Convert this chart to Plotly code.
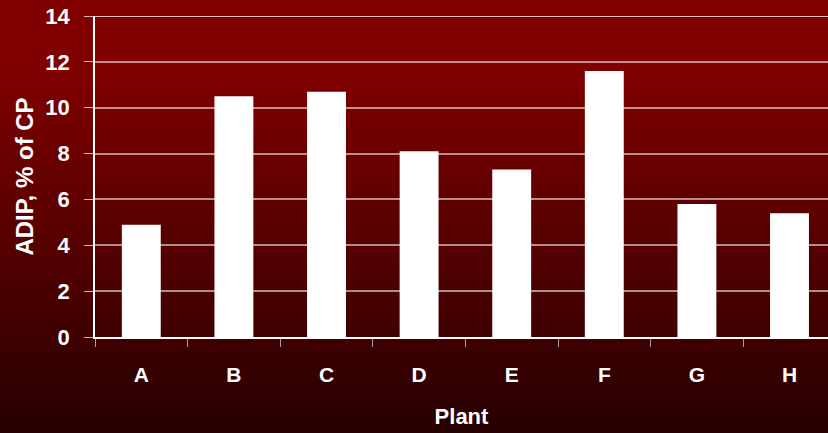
import plotly.graph_objects as go

plants = ["A", "B", "C", "D", "E", "F", "G", "H"]
adip = [4.9, 10.5, 10.7, 8.1, 7.3, 11.6, 5.8, 5.4]
y_ticks = [0, 2, 4, 6, 8, 10, 12, 14]

W, H = 828, 433
ML, MR, MT, MB = 95, 0, 16, 96
PH = H - MT - MB

def py_to_paper(py):
    return (H - MB - py) / PH

def lerp(a, b, t):
    return tuple(int(round(a[i] + (b[i] - a[i]) * t)) for i in range(3))

top_c = (128, 0, 0)
bot_c = (38, 0, 0)
shapes = []
n = 90
start = 70
for i in range(n):
    y0 = start + (H - start) * i / n
    y1 = start + (H - start) * (i + 1) / n
    c = lerp(top_c, bot_c, (i + 0.5) / n)
    shapes.append(dict(type="rect", xref="paper", yref="paper", layer="below",
                       x0=-0.2, x1=1.1, y0=py_to_paper(y1 + 0.5), y1=py_to_paper(y0),
                       fillcolor="rgb(%d,%d,%d)" % c, line=dict(width=0)))
shapes.append(dict(type="rect", xref="paper", yref="paper", layer="below",
                   x0=-0.2, x1=1.1, y0=py_to_paper(start), y1=py_to_paper(-5),
                   fillcolor="rgb(%d,%d,%d)" % top_c, line=dict(width=0)))
# top border line at 14
shapes.append(dict(type="line", xref="paper", yref="y", x0=0, x1=1, y0=14, y1=14,
                   line=dict(color="white", width=1.5), layer="above"))

fig = go.Figure(go.Bar(x=plants, y=adip, marker=dict(color="white", line=dict(width=0)),
                       width=0.42))

font = "Liberation Sans, Arial, sans-serif"
fig.update_layout(
    width=W, height=H,
    margin=dict(l=ML, r=MR, t=MT, b=MB, pad=0),
    paper_bgcolor="#800000", plot_bgcolor="rgba(0,0,0,0)",
    shapes=shapes, showlegend=False,
    font=dict(family=font, color="white"),
)
fig.update_xaxes(
    range=[-0.5, -0.5 + (W - ML) / 92.6], tickson="boundaries",
    ticks="outside", ticklen=8, tickcolor="rgba(255,255,255,0.6)", tickwidth=1,
    showline=True, linecolor="white", linewidth=1.5, showgrid=False,
    tickfont=dict(size=21, family=font, weight="bold", color="white"),
    ticklabelstandoff=18,
    title=dict(text="<b>Plant</b>", font=dict(size=22, family=font, color="white"), standoff=24),
)
fig.update_yaxes(
    range=[0, 14], tickvals=y_ticks, ticktext=[str(v) for v in y_ticks],
    ticks="outside", ticklen=9, tickcolor="rgba(255,255,255,0.7)", tickwidth=1,
    showline=True, linecolor="white", linewidth=1.5,
    showgrid=True, gridcolor="rgba(255,255,255,0.55)", gridwidth=1.5,
    zeroline=False,
    tickfont=dict(size=22, family=font, weight="bold", color="white"),
    ticklabelstandoff=10,
    title=dict(text="<b>ADIP, % of CP</b>", font=dict(size=24, family=font, color="white"), standoff=5),
)
fig.write_html("out.html", config={"displayModeBar": False},
               post_script="document.body.style.margin='0';document.body.style.overflow='hidden';")
